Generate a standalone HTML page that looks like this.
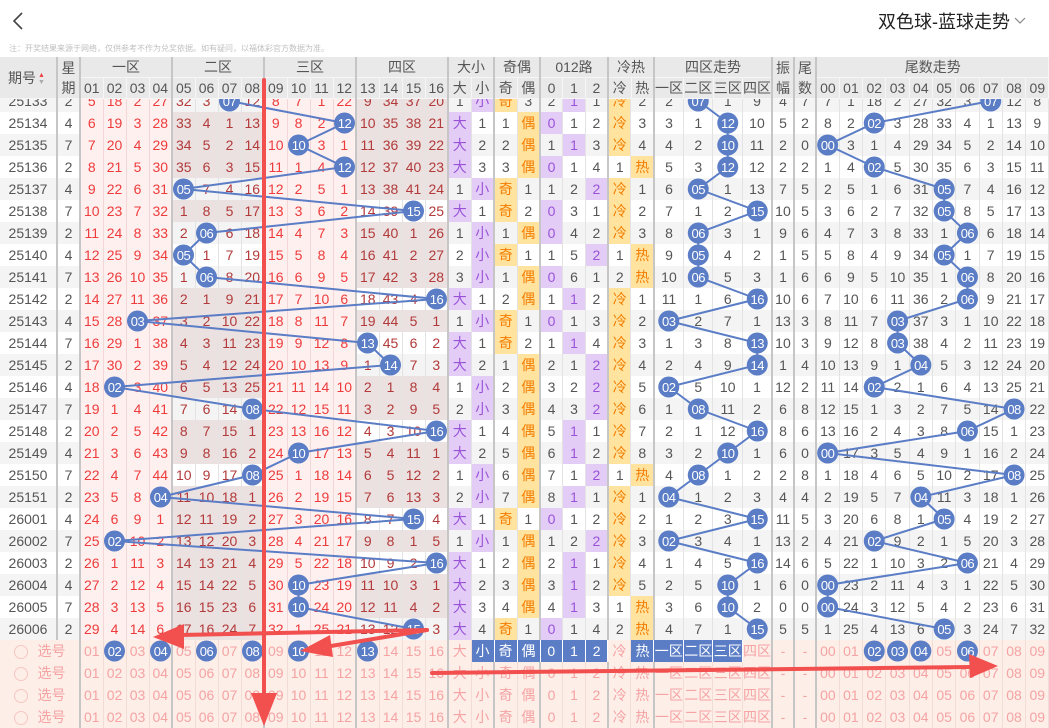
<!DOCTYPE html>
<html><head><meta charset="utf-8">
<style>
*{margin:0;padding:0;box-sizing:border-box}
body{width:1049px;height:726px;overflow:hidden;background:#fff;font-family:"Liberation Sans","Noto Sans CJK SC",sans-serif;position:relative}
table{border-collapse:collapse;table-layout:fixed;width:1049px;position:absolute;left:0}
td,th{padding:0;text-align:center;white-space:nowrap;overflow:hidden;font-weight:normal}
#data{top:90px;font-size:14px}
#data td{height:22px;color:#555;border-right:1px solid #e3e3e3;line-height:22px}
tr.g td{background:#f4f4f4}
tr.w td{background:#fff}
#data td.b,#data td.P,#data td.D,#data td.L,#data td.U,#data td.O{border-right:2px solid #c6c6c6}
#data td.p,#data td.P{background:#fff0f0;color:#ee3b3b;border-right-color:#f3d6d6}
#data td.P{border-right-color:#c6c6c6}
#data td.d,#data td.D{background:#ebe1e1;color:#b23a3a}
#data td.l,#data td.L{color:#b23a3a}
#data td.u,#data td.U{background:#e3cdf7;color:#9a52d8}
#data td.o,#data td.O{background:#ffe39e;color:#f47c00}
tr.s td{background:#fdeee8 !important;color:#f5a3a3 !important;border-right-color:#f2dcd6 !important}
tr.s td.b,tr.s td.P,tr.s td.D{border-right-color:#c6c6c6 !important}
#data tr.s td.x{background:#5b7dc6 !important;color:#fff !important;border-right:1px solid #fff !important}
#head{top:57px;font-size:14px;z-index:3}
#head th{background:#e9e9e9;color:#555;height:20px;line-height:20px;border-right:1px solid #f6f6f6;border-bottom:1px solid #f6f6f6}
#head th.b{border-right:2px solid #c6c6c6}
#ov{position:absolute;left:0;top:0;z-index:2}
#ar{position:absolute;left:0;top:0;z-index:5}
.top{position:absolute;left:0;top:0;width:1049px;height:57px;background:#fff;z-index:4}
</style></head><body>
<div class="top">
<svg width="40" height="40" style="position:absolute;left:6px;top:6px"><polyline points="16,7 8,15 16,23" fill="none" stroke="#444" stroke-width="1.6"/></svg>
<div style="position:absolute;left:878px;top:8px;font-size:18px;color:#222;font-family:'Liberation Sans','Noto Sans CJK SC',sans-serif">双色球-蓝球走势</div>
<svg width="20" height="20" style="position:absolute;left:1012px;top:12px"><polyline points="3,6 8,11 13,6" fill="none" stroke="#888" stroke-width="1.2"/></svg>
<div style="position:absolute;left:9px;top:43px;font-size:8px;color:#c0c0c0">注：开奖结果来源于网络，仅供参考不作为兑奖依据。如有疑问，以福体彩官方数据为准。</div>
</div>

<table id="head">
<colgroup><col style="width:57px"><col style="width:23px"><col span="16" style="width:23px"><col span="4" style="width:23px"><col span="3" style="width:22.67px"><col span="2" style="width:23px"><col span="4" style="width:29.5px"><col style="width:22px"><col style="width:22px"><col span="10" style="width:23.3px"></colgroup>
<tr><th rowspan="2" class="b" style="text-align:left;padding-left:8px">期号<span style="display:inline-block;vertical-align:middle;font-size:7px;line-height:7px;margin-left:2px"><span style="color:#e44">▲</span><br><span style="color:#aaa">▼</span></span></th><th rowspan="2" class="b">星<br>期</th><th colspan="4" class="b">一区</th><th colspan="4" class="b">二区</th><th colspan="4" class="b">三区</th><th colspan="4" class="b">四区</th><th colspan="2" class="b">大小</th><th colspan="2" class="b">奇偶</th><th colspan="3" class="b">012路</th><th colspan="2" class="b">冷热</th><th colspan="4" class="b">四区走势</th><th rowspan="2" class="b">振<br>幅</th><th rowspan="2" class="b">尾<br>数</th><th colspan="10">尾数走势</th></tr>
<tr><th>01</th><th>02</th><th>03</th><th class="b">04</th><th>05</th><th>06</th><th>07</th><th class="b">08</th><th>09</th><th>10</th><th>11</th><th class="b">12</th><th>13</th><th>14</th><th>15</th><th class="b">16</th><th>大</th><th class="b">小</th><th>奇</th><th class="b">偶</th><th>0</th><th>1</th><th class="b">2</th><th>冷</th><th class="b">热</th><th>一区</th><th>二区</th><th>三区</th><th class="b">四区</th><th>00</th><th>01</th><th>02</th><th>03</th><th>04</th><th>05</th><th>06</th><th>07</th><th>08</th><th>09</th></tr>
</table>

<table id="data">
<colgroup><col style="width:57px"><col style="width:23px"><col span="16" style="width:23px"><col span="4" style="width:23px"><col span="3" style="width:22.67px"><col span="2" style="width:23px"><col span="4" style="width:29.5px"><col style="width:22px"><col style="width:22px"><col span="10" style="width:23.3px"></colgroup>
<tr class="g"><td class="b">25133</td><td class="b">2</td><td class="p">5</td><td class="p">18</td><td class="p">2</td><td class="P">27</td><td class="l">32</td><td class="l">3</td><td class="l"></td><td class="L">12</td><td class="p">8</td><td class="p">7</td><td class="p">1</td><td class="P">22</td><td class="d">9</td><td class="d">34</td><td class="d">37</td><td class="D">20</td><td>1</td><td class="U">小</td><td class="o">奇</td><td class="b">3</td><td>2</td><td class="u">1</td><td class="b">1</td><td class="o">冷</td><td class="b">2</td><td>2</td><td></td><td>1</td><td class="b">9</td><td class="b">4</td><td class="b">7</td><td>7</td><td>1</td><td>18</td><td>2</td><td>27</td><td>32</td><td>3</td><td></td><td>12</td><td>8</td></tr>
<tr class="w"><td class="b">25134</td><td class="b">4</td><td class="p">6</td><td class="p">19</td><td class="p">3</td><td class="P">28</td><td class="d">33</td><td class="d">4</td><td class="d">1</td><td class="D">13</td><td class="p">9</td><td class="p">8</td><td class="p">2</td><td class="P"></td><td class="d">10</td><td class="d">35</td><td class="d">38</td><td class="D">21</td><td class="u">大</td><td class="b">1</td><td>1</td><td class="O">偶</td><td class="u">0</td><td>1</td><td class="b">2</td><td class="o">冷</td><td class="b">3</td><td>3</td><td>1</td><td></td><td class="b">10</td><td class="b">5</td><td class="b">2</td><td>8</td><td>2</td><td></td><td>3</td><td>28</td><td>33</td><td>4</td><td>1</td><td>13</td><td>9</td></tr>
<tr class="g"><td class="b">25135</td><td class="b">7</td><td class="p">7</td><td class="p">20</td><td class="p">4</td><td class="P">29</td><td class="d">34</td><td class="d">5</td><td class="d">2</td><td class="D">14</td><td class="p">10</td><td class="p"></td><td class="p">3</td><td class="P">1</td><td class="d">11</td><td class="d">36</td><td class="d">39</td><td class="D">22</td><td class="u">大</td><td class="b">2</td><td>2</td><td class="O">偶</td><td>1</td><td class="u">1</td><td class="b">3</td><td class="o">冷</td><td class="b">4</td><td>4</td><td>2</td><td></td><td class="b">11</td><td class="b">2</td><td class="b">0</td><td></td><td>3</td><td>1</td><td>4</td><td>29</td><td>34</td><td>5</td><td>2</td><td>14</td><td>10</td></tr>
<tr class="w"><td class="b">25136</td><td class="b">2</td><td class="p">8</td><td class="p">21</td><td class="p">5</td><td class="P">30</td><td class="d">35</td><td class="d">6</td><td class="d">3</td><td class="D">15</td><td class="p">11</td><td class="p">1</td><td class="p">4</td><td class="P"></td><td class="d">12</td><td class="d">37</td><td class="d">40</td><td class="D">23</td><td class="u">大</td><td class="b">3</td><td>3</td><td class="O">偶</td><td class="u">0</td><td>1</td><td class="b">4</td><td>1</td><td class="O">热</td><td>5</td><td>3</td><td></td><td class="b">12</td><td class="b">2</td><td class="b">2</td><td>1</td><td>4</td><td></td><td>5</td><td>30</td><td>35</td><td>6</td><td>3</td><td>15</td><td>11</td></tr>
<tr class="g"><td class="b">25137</td><td class="b">4</td><td class="p">9</td><td class="p">22</td><td class="p">6</td><td class="P">31</td><td class="l"></td><td class="l">7</td><td class="l">4</td><td class="L">16</td><td class="p">12</td><td class="p">2</td><td class="p">5</td><td class="P">1</td><td class="d">13</td><td class="d">38</td><td class="d">41</td><td class="D">24</td><td>1</td><td class="U">小</td><td class="o">奇</td><td class="b">1</td><td>1</td><td>2</td><td class="U">2</td><td class="o">冷</td><td class="b">1</td><td>6</td><td></td><td>1</td><td class="b">13</td><td class="b">7</td><td class="b">5</td><td>2</td><td>5</td><td>1</td><td>6</td><td>31</td><td></td><td>7</td><td>4</td><td>16</td><td>12</td></tr>
<tr class="w"><td class="b">25138</td><td class="b">7</td><td class="p">10</td><td class="p">23</td><td class="p">7</td><td class="P">32</td><td class="d">1</td><td class="d">8</td><td class="d">5</td><td class="D">17</td><td class="p">13</td><td class="p">3</td><td class="p">6</td><td class="P">2</td><td class="l">14</td><td class="l">39</td><td class="l"></td><td class="L">25</td><td class="u">大</td><td class="b">1</td><td class="o">奇</td><td class="b">2</td><td class="u">0</td><td>3</td><td class="b">1</td><td class="o">冷</td><td class="b">2</td><td>7</td><td>1</td><td>2</td><td class="b"></td><td class="b">10</td><td class="b">5</td><td>3</td><td>6</td><td>2</td><td>7</td><td>32</td><td></td><td>8</td><td>5</td><td>17</td><td>13</td></tr>
<tr class="g"><td class="b">25139</td><td class="b">2</td><td class="p">11</td><td class="p">24</td><td class="p">8</td><td class="P">33</td><td class="l">2</td><td class="l"></td><td class="l">6</td><td class="L">18</td><td class="p">14</td><td class="p">4</td><td class="p">7</td><td class="P">3</td><td class="d">15</td><td class="d">40</td><td class="d">1</td><td class="D">26</td><td>1</td><td class="U">小</td><td>1</td><td class="O">偶</td><td class="u">0</td><td>4</td><td class="b">2</td><td class="o">冷</td><td class="b">3</td><td>8</td><td></td><td>3</td><td class="b">1</td><td class="b">9</td><td class="b">6</td><td>4</td><td>7</td><td>3</td><td>8</td><td>33</td><td>1</td><td></td><td>6</td><td>18</td><td>14</td></tr>
<tr class="w"><td class="b">25140</td><td class="b">4</td><td class="p">12</td><td class="p">25</td><td class="p">9</td><td class="P">34</td><td class="l"></td><td class="l">1</td><td class="l">7</td><td class="L">19</td><td class="p">15</td><td class="p">5</td><td class="p">8</td><td class="P">4</td><td class="d">16</td><td class="d">41</td><td class="d">2</td><td class="D">27</td><td>2</td><td class="U">小</td><td class="o">奇</td><td class="b">1</td><td>1</td><td>5</td><td class="U">2</td><td>1</td><td class="O">热</td><td>9</td><td></td><td>4</td><td class="b">2</td><td class="b">1</td><td class="b">5</td><td>5</td><td>8</td><td>4</td><td>9</td><td>34</td><td></td><td>1</td><td>7</td><td>19</td><td>15</td></tr>
<tr class="g"><td class="b">25141</td><td class="b">7</td><td class="p">13</td><td class="p">26</td><td class="p">10</td><td class="P">35</td><td class="l">1</td><td class="l"></td><td class="l">8</td><td class="L">20</td><td class="p">16</td><td class="p">6</td><td class="p">9</td><td class="P">5</td><td class="d">17</td><td class="d">42</td><td class="d">3</td><td class="D">28</td><td>3</td><td class="U">小</td><td>1</td><td class="O">偶</td><td class="u">0</td><td>6</td><td class="b">1</td><td>2</td><td class="O">热</td><td>10</td><td></td><td>5</td><td class="b">3</td><td class="b">1</td><td class="b">6</td><td>6</td><td>9</td><td>5</td><td>10</td><td>35</td><td>1</td><td></td><td>8</td><td>20</td><td>16</td></tr>
<tr class="w"><td class="b">25142</td><td class="b">2</td><td class="p">14</td><td class="p">27</td><td class="p">11</td><td class="P">36</td><td class="d">2</td><td class="d">1</td><td class="d">9</td><td class="D">21</td><td class="p">17</td><td class="p">7</td><td class="p">10</td><td class="P">6</td><td class="l">18</td><td class="l">43</td><td class="l">4</td><td class="L"></td><td class="u">大</td><td class="b">1</td><td>2</td><td class="O">偶</td><td>1</td><td class="u">1</td><td class="b">2</td><td class="o">冷</td><td class="b">1</td><td>11</td><td>1</td><td>6</td><td class="b"></td><td class="b">10</td><td class="b">6</td><td>7</td><td>10</td><td>6</td><td>11</td><td>36</td><td>2</td><td></td><td>9</td><td>21</td><td>17</td></tr>
<tr class="g"><td class="b">25143</td><td class="b">4</td><td class="p">15</td><td class="p">28</td><td class="p"></td><td class="P">37</td><td class="d">3</td><td class="d">2</td><td class="d">10</td><td class="D">22</td><td class="p">18</td><td class="p">8</td><td class="p">11</td><td class="P">7</td><td class="d">19</td><td class="d">44</td><td class="d">5</td><td class="D">1</td><td>1</td><td class="U">小</td><td class="o">奇</td><td class="b">1</td><td class="u">0</td><td>1</td><td class="b">3</td><td class="o">冷</td><td class="b">2</td><td></td><td>2</td><td>7</td><td class="b">1</td><td class="b">13</td><td class="b">3</td><td>8</td><td>11</td><td>7</td><td></td><td>37</td><td>3</td><td>1</td><td>10</td><td>22</td><td>18</td></tr>
<tr class="w"><td class="b">25144</td><td class="b">7</td><td class="p">16</td><td class="p">29</td><td class="p">1</td><td class="P">38</td><td class="d">4</td><td class="d">3</td><td class="d">11</td><td class="D">23</td><td class="p">19</td><td class="p">9</td><td class="p">12</td><td class="P">8</td><td class="l"></td><td class="l">45</td><td class="l">6</td><td class="L">2</td><td class="u">大</td><td class="b">1</td><td class="o">奇</td><td class="b">2</td><td>1</td><td class="u">1</td><td class="b">4</td><td class="o">冷</td><td class="b">3</td><td>1</td><td>3</td><td>8</td><td class="b"></td><td class="b">10</td><td class="b">3</td><td>9</td><td>12</td><td>8</td><td></td><td>38</td><td>4</td><td>2</td><td>11</td><td>23</td><td>19</td></tr>
<tr class="g"><td class="b">25145</td><td class="b">2</td><td class="p">17</td><td class="p">30</td><td class="p">2</td><td class="P">39</td><td class="d">5</td><td class="d">4</td><td class="d">12</td><td class="D">24</td><td class="p">20</td><td class="p">10</td><td class="p">13</td><td class="P">9</td><td class="l">1</td><td class="l"></td><td class="l">7</td><td class="L">3</td><td class="u">大</td><td class="b">2</td><td>1</td><td class="O">偶</td><td>2</td><td>1</td><td class="U">2</td><td class="o">冷</td><td class="b">4</td><td>2</td><td>4</td><td>9</td><td class="b"></td><td class="b">1</td><td class="b">4</td><td>10</td><td>13</td><td>9</td><td>1</td><td></td><td>5</td><td>3</td><td>12</td><td>24</td><td>20</td></tr>
<tr class="w"><td class="b">25146</td><td class="b">4</td><td class="p">18</td><td class="p"></td><td class="p">3</td><td class="P">40</td><td class="d">6</td><td class="d">5</td><td class="d">13</td><td class="D">25</td><td class="p">21</td><td class="p">11</td><td class="p">14</td><td class="P">10</td><td class="d">2</td><td class="d">1</td><td class="d">8</td><td class="D">4</td><td>1</td><td class="U">小</td><td>2</td><td class="O">偶</td><td>3</td><td>2</td><td class="U">2</td><td class="o">冷</td><td class="b">5</td><td></td><td>5</td><td>10</td><td class="b">1</td><td class="b">12</td><td class="b">2</td><td>11</td><td>14</td><td></td><td>2</td><td>1</td><td>6</td><td>4</td><td>13</td><td>25</td><td>21</td></tr>
<tr class="g"><td class="b">25147</td><td class="b">7</td><td class="p">19</td><td class="p">1</td><td class="p">4</td><td class="P">41</td><td class="l">7</td><td class="l">6</td><td class="l">14</td><td class="L"></td><td class="p">22</td><td class="p">12</td><td class="p">15</td><td class="P">11</td><td class="d">3</td><td class="d">2</td><td class="d">9</td><td class="D">5</td><td>2</td><td class="U">小</td><td>3</td><td class="O">偶</td><td>4</td><td>3</td><td class="U">2</td><td class="o">冷</td><td class="b">6</td><td>1</td><td></td><td>11</td><td class="b">2</td><td class="b">6</td><td class="b">8</td><td>12</td><td>15</td><td>1</td><td>3</td><td>2</td><td>7</td><td>5</td><td>14</td><td></td><td>22</td></tr>
<tr class="w"><td class="b">25148</td><td class="b">2</td><td class="p">20</td><td class="p">2</td><td class="p">5</td><td class="P">42</td><td class="d">8</td><td class="d">7</td><td class="d">15</td><td class="D">1</td><td class="p">23</td><td class="p">13</td><td class="p">16</td><td class="P">12</td><td class="l">4</td><td class="l">3</td><td class="l">10</td><td class="L"></td><td class="u">大</td><td class="b">1</td><td>4</td><td class="O">偶</td><td>5</td><td class="u">1</td><td class="b">1</td><td class="o">冷</td><td class="b">7</td><td>2</td><td>1</td><td>12</td><td class="b"></td><td class="b">8</td><td class="b">6</td><td>13</td><td>16</td><td>2</td><td>4</td><td>3</td><td>8</td><td></td><td>15</td><td>1</td><td>23</td></tr>
<tr class="g"><td class="b">25149</td><td class="b">4</td><td class="p">21</td><td class="p">3</td><td class="p">6</td><td class="P">43</td><td class="d">9</td><td class="d">8</td><td class="d">16</td><td class="D">2</td><td class="p">24</td><td class="p"></td><td class="p">17</td><td class="P">13</td><td class="d">5</td><td class="d">4</td><td class="d">11</td><td class="D">1</td><td class="u">大</td><td class="b">2</td><td>5</td><td class="O">偶</td><td>6</td><td class="u">1</td><td class="b">2</td><td class="o">冷</td><td class="b">8</td><td>3</td><td>2</td><td></td><td class="b">1</td><td class="b">6</td><td class="b">0</td><td></td><td>17</td><td>3</td><td>5</td><td>4</td><td>9</td><td>1</td><td>16</td><td>2</td><td>24</td></tr>
<tr class="w"><td class="b">25150</td><td class="b">7</td><td class="p">22</td><td class="p">4</td><td class="p">7</td><td class="P">44</td><td class="l">10</td><td class="l">9</td><td class="l">17</td><td class="L"></td><td class="p">25</td><td class="p">1</td><td class="p">18</td><td class="P">14</td><td class="d">6</td><td class="d">5</td><td class="d">12</td><td class="D">2</td><td>1</td><td class="U">小</td><td>6</td><td class="O">偶</td><td>7</td><td>1</td><td class="U">2</td><td>1</td><td class="O">热</td><td>4</td><td></td><td>1</td><td class="b">2</td><td class="b">2</td><td class="b">8</td><td>1</td><td>18</td><td>4</td><td>6</td><td>5</td><td>10</td><td>2</td><td>17</td><td></td><td>25</td></tr>
<tr class="g"><td class="b">25151</td><td class="b">2</td><td class="p">23</td><td class="p">5</td><td class="p">8</td><td class="P"></td><td class="d">11</td><td class="d">10</td><td class="d">18</td><td class="D">1</td><td class="p">26</td><td class="p">2</td><td class="p">19</td><td class="P">15</td><td class="d">7</td><td class="d">6</td><td class="d">13</td><td class="D">3</td><td>2</td><td class="U">小</td><td>7</td><td class="O">偶</td><td>8</td><td class="u">1</td><td class="b">1</td><td class="o">冷</td><td class="b">1</td><td></td><td>1</td><td>2</td><td class="b">3</td><td class="b">4</td><td class="b">4</td><td>2</td><td>19</td><td>5</td><td>7</td><td></td><td>11</td><td>3</td><td>18</td><td>1</td><td>26</td></tr>
<tr class="w"><td class="b">26001</td><td class="b">4</td><td class="p">24</td><td class="p">6</td><td class="p">9</td><td class="P">1</td><td class="d">12</td><td class="d">11</td><td class="d">19</td><td class="D">2</td><td class="p">27</td><td class="p">3</td><td class="p">20</td><td class="P">16</td><td class="l">8</td><td class="l">7</td><td class="l"></td><td class="L">4</td><td class="u">大</td><td class="b">1</td><td class="o">奇</td><td class="b">1</td><td class="u">0</td><td>1</td><td class="b">2</td><td class="o">冷</td><td class="b">2</td><td>1</td><td>2</td><td>3</td><td class="b"></td><td class="b">11</td><td class="b">5</td><td>3</td><td>20</td><td>6</td><td>8</td><td>1</td><td></td><td>4</td><td>19</td><td>2</td><td>27</td></tr>
<tr class="g"><td class="b">26002</td><td class="b">7</td><td class="p">25</td><td class="p"></td><td class="p">10</td><td class="P">2</td><td class="d">13</td><td class="d">12</td><td class="d">20</td><td class="D">3</td><td class="p">28</td><td class="p">4</td><td class="p">21</td><td class="P">17</td><td class="d">9</td><td class="d">8</td><td class="d">1</td><td class="D">5</td><td>1</td><td class="U">小</td><td>1</td><td class="O">偶</td><td>1</td><td>2</td><td class="U">2</td><td class="o">冷</td><td class="b">3</td><td></td><td>3</td><td>4</td><td class="b">1</td><td class="b">13</td><td class="b">2</td><td>4</td><td>21</td><td></td><td>9</td><td>2</td><td>1</td><td>5</td><td>20</td><td>3</td><td>28</td></tr>
<tr class="w"><td class="b">26003</td><td class="b">2</td><td class="p">26</td><td class="p">1</td><td class="p">11</td><td class="P">3</td><td class="d">14</td><td class="d">13</td><td class="d">21</td><td class="D">4</td><td class="p">29</td><td class="p">5</td><td class="p">22</td><td class="P">18</td><td class="l">10</td><td class="l">9</td><td class="l">2</td><td class="L"></td><td class="u">大</td><td class="b">1</td><td>2</td><td class="O">偶</td><td>2</td><td class="u">1</td><td class="b">1</td><td class="o">冷</td><td class="b">4</td><td>1</td><td>4</td><td>5</td><td class="b"></td><td class="b">14</td><td class="b">6</td><td>5</td><td>22</td><td>1</td><td>10</td><td>3</td><td>2</td><td></td><td>21</td><td>4</td><td>29</td></tr>
<tr class="g"><td class="b">26004</td><td class="b">4</td><td class="p">27</td><td class="p">2</td><td class="p">12</td><td class="P">4</td><td class="d">15</td><td class="d">14</td><td class="d">22</td><td class="D">5</td><td class="p">30</td><td class="p"></td><td class="p">23</td><td class="P">19</td><td class="d">11</td><td class="d">10</td><td class="d">3</td><td class="D">1</td><td class="u">大</td><td class="b">2</td><td>3</td><td class="O">偶</td><td>3</td><td class="u">1</td><td class="b">2</td><td class="o">冷</td><td class="b">5</td><td>2</td><td>5</td><td></td><td class="b">1</td><td class="b">6</td><td class="b">0</td><td></td><td>23</td><td>2</td><td>11</td><td>4</td><td>3</td><td>1</td><td>22</td><td>5</td><td>30</td></tr>
<tr class="w"><td class="b">26005</td><td class="b">7</td><td class="p">28</td><td class="p">3</td><td class="p">13</td><td class="P">5</td><td class="d">16</td><td class="d">15</td><td class="d">23</td><td class="D">6</td><td class="p">31</td><td class="p"></td><td class="p">24</td><td class="P">20</td><td class="d">12</td><td class="d">11</td><td class="d">4</td><td class="D">2</td><td class="u">大</td><td class="b">3</td><td>4</td><td class="O">偶</td><td>4</td><td class="u">1</td><td class="b">3</td><td>1</td><td class="O">热</td><td>3</td><td>6</td><td></td><td class="b">2</td><td class="b">0</td><td class="b">0</td><td></td><td>24</td><td>3</td><td>12</td><td>5</td><td>4</td><td>2</td><td>23</td><td>6</td><td>31</td></tr>
<tr class="g"><td class="b">26006</td><td class="b">2</td><td class="p">29</td><td class="p">4</td><td class="p">14</td><td class="P">6</td><td class="d">17</td><td class="d">16</td><td class="d">24</td><td class="D">7</td><td class="p">32</td><td class="p">1</td><td class="p">25</td><td class="P">21</td><td class="l">13</td><td class="l">12</td><td class="l"></td><td class="L">3</td><td class="u">大</td><td class="b">4</td><td class="o">奇</td><td class="b">1</td><td class="u">0</td><td>1</td><td class="b">4</td><td>2</td><td class="O">热</td><td>4</td><td>7</td><td>1</td><td class="b"></td><td class="b">5</td><td class="b">5</td><td>1</td><td>25</td><td>4</td><td>13</td><td>6</td><td></td><td>3</td><td>24</td><td>7</td><td>32</td></tr>
<tr class="s"><td colspan="2" class="b"><span style="display:inline-block;width:14px;height:14px;border:1px solid #f7c6c0;border-radius:50%;vertical-align:middle;margin-right:10px"></span>选号</td><td>01</td><td></td><td>03</td><td class="b"></td><td>05</td><td></td><td>07</td><td class="b"></td><td>09</td><td></td><td>11</td><td class="b">12</td><td></td><td>14</td><td>15</td><td class="b">16</td><td>大</td><td class="x">小</td><td class="x">奇</td><td class="x">偶</td><td class="x">0</td><td class="x">1</td><td class="x">2</td><td>冷</td><td class="x">热</td><td class="x">一区</td><td class="x">二区</td><td class="x">三区</td><td class="b">四区</td><td class="b">-</td><td class="b">-</td><td>00</td><td>01</td><td></td><td></td><td></td><td>05</td><td></td><td>07</td><td>08</td><td>09</td></tr>
<tr class="s"><td colspan="2" class="b"><span style="display:inline-block;width:14px;height:14px;border:1px solid #f7c6c0;border-radius:50%;vertical-align:middle;margin-right:10px"></span>选号</td><td>01</td><td>02</td><td>03</td><td class="b">04</td><td>05</td><td>06</td><td>07</td><td class="b">08</td><td>09</td><td>10</td><td>11</td><td class="b">12</td><td>13</td><td>14</td><td>15</td><td class="b">16</td><td>大</td><td class="b">小</td><td>奇</td><td class="b">偶</td><td>0</td><td>1</td><td class="b">2</td><td>冷</td><td class="b">热</td><td>一区</td><td>二区</td><td>三区</td><td class="b">四区</td><td class="b">-</td><td class="b">-</td><td>00</td><td>01</td><td>02</td><td>03</td><td>04</td><td>05</td><td>06</td><td>07</td><td>08</td><td>09</td></tr>
<tr class="s"><td colspan="2" class="b"><span style="display:inline-block;width:14px;height:14px;border:1px solid #f7c6c0;border-radius:50%;vertical-align:middle;margin-right:10px"></span>选号</td><td>01</td><td>02</td><td>03</td><td class="b">04</td><td>05</td><td>06</td><td>07</td><td class="b">08</td><td>09</td><td>10</td><td>11</td><td class="b">12</td><td>13</td><td>14</td><td>15</td><td class="b">16</td><td>大</td><td class="b">小</td><td>奇</td><td class="b">偶</td><td>0</td><td>1</td><td class="b">2</td><td>冷</td><td class="b">热</td><td>一区</td><td>二区</td><td>三区</td><td class="b">四区</td><td class="b">-</td><td class="b">-</td><td>00</td><td>01</td><td>02</td><td>03</td><td>04</td><td>05</td><td>06</td><td>07</td><td>08</td><td>09</td></tr>
<tr class="s"><td colspan="2" class="b"><span style="display:inline-block;width:14px;height:14px;border:1px solid #f7c6c0;border-radius:50%;vertical-align:middle;margin-right:10px"></span>选号</td><td>01</td><td>02</td><td>03</td><td class="b">04</td><td>05</td><td>06</td><td>07</td><td class="b">08</td><td>09</td><td>10</td><td>11</td><td class="b">12</td><td>13</td><td>14</td><td>15</td><td class="b">16</td><td>大</td><td class="b">小</td><td>奇</td><td class="b">偶</td><td>0</td><td>1</td><td class="b">2</td><td>冷</td><td class="b">热</td><td>一区</td><td>二区</td><td>三区</td><td class="b">四区</td><td class="b">-</td><td class="b">-</td><td>00</td><td>01</td><td>02</td><td>03</td><td>04</td><td>05</td><td>06</td><td>07</td><td>08</td><td>09</td></tr>
</table>

<svg id="ov" width="1049" height="726" font-family="Liberation Sans, sans-serif" font-size="13" text-anchor="middle">
<g fill="none" stroke="#5b7dc6" stroke-width="2">
<polyline points="229.5,101 344.5,123 298.5,145 344.5,167 183.5,189 413.5,211 206.5,233 183.5,255 206.5,277 436.5,299 137.5,321 367.5,343 390.5,365 114.5,387 252.5,409 436.5,431 298.5,453 252.5,475 160.5,497 413.5,519 114.5,541 436.5,563 298.5,585 298.5,607 413.5,629"/>
<polyline points="698.25,101 727.75,123 727.75,145 727.75,167 698.25,189 757.25,211 698.25,233 698.25,255 698.25,277 757.25,299 668.75,321 757.25,343 757.25,365 668.75,387 698.25,409 757.25,431 727.75,453 698.25,475 668.75,497 757.25,519 668.75,541 757.25,563 727.75,585 727.75,607 757.25,629"/>
<polyline points="990.75,101 874.25,123 827.65,145 874.25,167 944.15,189 944.15,211 967.45,233 944.15,255 967.45,277 967.45,299 897.55,321 897.55,343 920.85,365 874.25,387 1014.05,409 967.45,431 827.65,453 1014.05,475 920.85,497 944.15,519 874.25,541 967.45,563 827.65,585 827.65,607 944.15,629"/>
</g>
<g fill="#5b7dc6">
<circle cx="229.5" cy="101" r="10.5"/><circle cx="344.5" cy="123" r="10.5"/><circle cx="298.5" cy="145" r="10.5"/><circle cx="344.5" cy="167" r="10.5"/><circle cx="183.5" cy="189" r="10.5"/><circle cx="413.5" cy="211" r="10.5"/><circle cx="206.5" cy="233" r="10.5"/><circle cx="183.5" cy="255" r="10.5"/><circle cx="206.5" cy="277" r="10.5"/><circle cx="436.5" cy="299" r="10.5"/><circle cx="137.5" cy="321" r="10.5"/><circle cx="367.5" cy="343" r="10.5"/><circle cx="390.5" cy="365" r="10.5"/><circle cx="114.5" cy="387" r="10.5"/><circle cx="252.5" cy="409" r="10.5"/><circle cx="436.5" cy="431" r="10.5"/><circle cx="298.5" cy="453" r="10.5"/><circle cx="252.5" cy="475" r="10.5"/><circle cx="160.5" cy="497" r="10.5"/><circle cx="413.5" cy="519" r="10.5"/><circle cx="114.5" cy="541" r="10.5"/><circle cx="436.5" cy="563" r="10.5"/><circle cx="298.5" cy="585" r="10.5"/><circle cx="298.5" cy="607" r="10.5"/><circle cx="413.5" cy="629" r="10.5"/>
<circle cx="698.25" cy="101" r="10.5"/><circle cx="727.75" cy="123" r="10.5"/><circle cx="727.75" cy="145" r="10.5"/><circle cx="727.75" cy="167" r="10.5"/><circle cx="698.25" cy="189" r="10.5"/><circle cx="757.25" cy="211" r="10.5"/><circle cx="698.25" cy="233" r="10.5"/><circle cx="698.25" cy="255" r="10.5"/><circle cx="698.25" cy="277" r="10.5"/><circle cx="757.25" cy="299" r="10.5"/><circle cx="668.75" cy="321" r="10.5"/><circle cx="757.25" cy="343" r="10.5"/><circle cx="757.25" cy="365" r="10.5"/><circle cx="668.75" cy="387" r="10.5"/><circle cx="698.25" cy="409" r="10.5"/><circle cx="757.25" cy="431" r="10.5"/><circle cx="727.75" cy="453" r="10.5"/><circle cx="698.25" cy="475" r="10.5"/><circle cx="668.75" cy="497" r="10.5"/><circle cx="757.25" cy="519" r="10.5"/><circle cx="668.75" cy="541" r="10.5"/><circle cx="757.25" cy="563" r="10.5"/><circle cx="727.75" cy="585" r="10.5"/><circle cx="727.75" cy="607" r="10.5"/><circle cx="757.25" cy="629" r="10.5"/>
<circle cx="990.75" cy="101" r="10.5"/><circle cx="874.25" cy="123" r="10.5"/><circle cx="827.65" cy="145" r="10.5"/><circle cx="874.25" cy="167" r="10.5"/><circle cx="944.15" cy="189" r="10.5"/><circle cx="944.15" cy="211" r="10.5"/><circle cx="967.45" cy="233" r="10.5"/><circle cx="944.15" cy="255" r="10.5"/><circle cx="967.45" cy="277" r="10.5"/><circle cx="967.45" cy="299" r="10.5"/><circle cx="897.55" cy="321" r="10.5"/><circle cx="897.55" cy="343" r="10.5"/><circle cx="920.85" cy="365" r="10.5"/><circle cx="874.25" cy="387" r="10.5"/><circle cx="1014.05" cy="409" r="10.5"/><circle cx="967.45" cy="431" r="10.5"/><circle cx="827.65" cy="453" r="10.5"/><circle cx="1014.05" cy="475" r="10.5"/><circle cx="920.85" cy="497" r="10.5"/><circle cx="944.15" cy="519" r="10.5"/><circle cx="874.25" cy="541" r="10.5"/><circle cx="967.45" cy="563" r="10.5"/><circle cx="827.65" cy="585" r="10.5"/><circle cx="827.65" cy="607" r="10.5"/><circle cx="944.15" cy="629" r="10.5"/>
<circle cx="114.5" cy="651" r="10.5"/><circle cx="160.5" cy="651" r="10.5"/><circle cx="206.5" cy="651" r="10.5"/><circle cx="252.5" cy="651" r="10.5"/><circle cx="298.5" cy="651" r="10.5"/><circle cx="367.5" cy="651" r="10.5"/>
<circle cx="874.25" cy="651" r="10.5"/><circle cx="897.55" cy="651" r="10.5"/><circle cx="920.85" cy="651" r="10.5"/><circle cx="967.45" cy="651" r="10.5"/>
</g>
<g fill="#fff" letter-spacing="-0.5">
<text x="229.5" y="106">07</text><text x="344.5" y="128">12</text><text x="298.5" y="150">10</text><text x="344.5" y="172">12</text><text x="183.5" y="194">05</text><text x="413.5" y="216">15</text><text x="206.5" y="238">06</text><text x="183.5" y="260">05</text><text x="206.5" y="282">06</text><text x="436.5" y="304">16</text><text x="137.5" y="326">03</text><text x="367.5" y="348">13</text><text x="390.5" y="370">14</text><text x="114.5" y="392">02</text><text x="252.5" y="414">08</text><text x="436.5" y="436">16</text><text x="298.5" y="458">10</text><text x="252.5" y="480">08</text><text x="160.5" y="502">04</text><text x="413.5" y="524">15</text><text x="114.5" y="546">02</text><text x="436.5" y="568">16</text><text x="298.5" y="590">10</text><text x="298.5" y="612">10</text><text x="413.5" y="634">15</text>
<text x="698.25" y="106">07</text><text x="727.75" y="128">12</text><text x="727.75" y="150">10</text><text x="727.75" y="172">12</text><text x="698.25" y="194">05</text><text x="757.25" y="216">15</text><text x="698.25" y="238">06</text><text x="698.25" y="260">05</text><text x="698.25" y="282">06</text><text x="757.25" y="304">16</text><text x="668.75" y="326">03</text><text x="757.25" y="348">13</text><text x="757.25" y="370">14</text><text x="668.75" y="392">02</text><text x="698.25" y="414">08</text><text x="757.25" y="436">16</text><text x="727.75" y="458">10</text><text x="698.25" y="480">08</text><text x="668.75" y="502">04</text><text x="757.25" y="524">15</text><text x="668.75" y="546">02</text><text x="757.25" y="568">16</text><text x="727.75" y="590">10</text><text x="727.75" y="612">10</text><text x="757.25" y="634">15</text>
<text x="990.75" y="106">07</text><text x="874.25" y="128">02</text><text x="827.65" y="150">00</text><text x="874.25" y="172">02</text><text x="944.15" y="194">05</text><text x="944.15" y="216">05</text><text x="967.45" y="238">06</text><text x="944.15" y="260">05</text><text x="967.45" y="282">06</text><text x="967.45" y="304">06</text><text x="897.55" y="326">03</text><text x="897.55" y="348">03</text><text x="920.85" y="370">04</text><text x="874.25" y="392">02</text><text x="1014.05" y="414">08</text><text x="967.45" y="436">06</text><text x="827.65" y="458">00</text><text x="1014.05" y="480">08</text><text x="920.85" y="502">04</text><text x="944.15" y="524">05</text><text x="874.25" y="546">02</text><text x="967.45" y="568">06</text><text x="827.65" y="590">00</text><text x="827.65" y="612">00</text><text x="944.15" y="634">05</text>
<text x="114.5" y="656">02</text><text x="160.5" y="656">04</text><text x="206.5" y="656">06</text><text x="252.5" y="656">08</text><text x="298.5" y="656">10</text><text x="367.5" y="656">13</text>
<text x="874.25" y="656">02</text><text x="897.55" y="656">03</text><text x="920.85" y="656">04</text><text x="967.45" y="656">06</text>
</g>
</svg>

<svg id="ar" width="1049" height="726">
<g stroke="#f24f4f" stroke-width="4" fill="none" stroke-linecap="round">
<line x1="264" y1="80" x2="264" y2="700"/>
<line x1="427" y1="630" x2="180" y2="635"/>
<line x1="427" y1="630" x2="325" y2="647"/>
<line x1="432" y1="673" x2="972" y2="667"/>
</g>
<g fill="#f24f4f">
<polygon points="264,726 251,693 277,693"/>
<polygon points="153,637 184,624 184,649"/>
<polygon points="300,651 333,657 330,635"/>
<polygon points="998,666 969,654 970,678"/>
</g>
</svg>
</body></html>
